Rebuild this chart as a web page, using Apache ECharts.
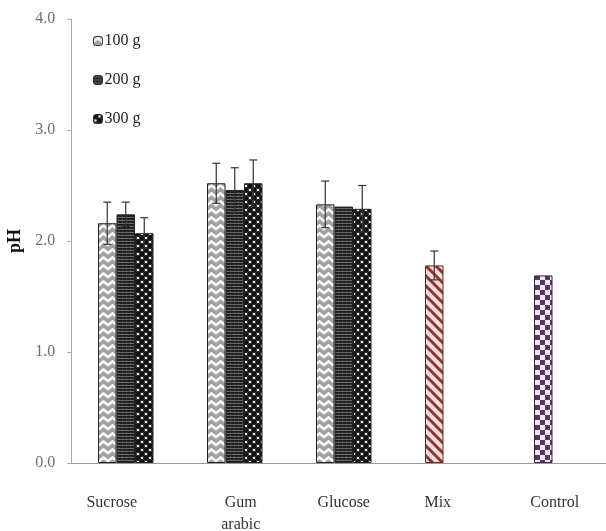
<!DOCTYPE html>
<html>
<head>
<meta charset="utf-8">
<script src="https://cdn.jsdelivr.net/npm/echarts@6/dist/echarts.min.js"></script>
<style>
  html, body { margin: 0; padding: 0; background: #fff; }
  #chart { width: 606px; height: 531px; }
</style>
</head>
<body>
<div id="chart"></div>
<script>
// pH of samples by sweetener type and amount
const categories = ['Sucrose', 'Gum\narabic', 'Glucose', 'Mix', 'Control'];
const seriesNames = ['100 g', '200 g', '300 g'];
const g100 = [2.16, 2.52, 2.33, 1.78, 1.69];
const g200 = [2.24, 2.46, 2.31, null, null];
const g300 = [2.07, 2.52, 2.29, null, null];
const err100 = [0.19, 0.18, 0.21, 0.13, null];
const err200 = [0.11, 0.20, null, null, null];
const err300 = [0.14, 0.21, 0.21, null, null];
const yTicks = [0, 1, 2, 3, 4];

// label nudges (px, + = right) for the category names
const labelShift = [-14, 6, 0, -15, -7];

function tile(w, h, draw) {
  const c = document.createElement('canvas');
  c.width = w; c.height = h;
  const ctx = c.getContext('2d');
  draw(ctx, w, h);
  return { image: c, repeat: 'repeat' };
}

// white chevrons on grey
const patChevron = tile(9, 8, (ctx, w, h) => {
  ctx.fillStyle = '#a2a2a2'; ctx.fillRect(0, 0, w, h);
  ctx.strokeStyle = '#fafafa'; ctx.lineWidth = 2.6;
  ctx.beginPath();
  ctx.moveTo(-1, 6); ctx.lineTo(4.5, 1.5); ctx.lineTo(10, 6);
  ctx.stroke();
});
// dense dark texture
const patDense = tile(4, 3, (ctx, w, h) => {
  ctx.fillStyle = '#1e1e1e'; ctx.fillRect(0, 0, w, h);
  ctx.fillStyle = '#6a6a6a'; ctx.fillRect(0, 1, w, 1);
  ctx.fillStyle = '#444'; ctx.fillRect(2, 0, 1, 1);
});
// black discs with white gaps
const patDots = tile(8, 8, (ctx, w, h) => {
  ctx.fillStyle = '#f2f2f2'; ctx.fillRect(0, 0, w, h);
  ctx.fillStyle = '#111';
  [[2, 2], [6, 6], [10, 2], [-2, 6], [2, 10], [6, -2], [-2, -2], [10, 10], [10, 6], [-2, 10]].forEach(([x, y]) => {
    ctx.beginPath(); ctx.arc(x, y, 2.9, 0, Math.PI * 2); ctx.fill();
  });
});
// red diagonal stripes
const patStripes = tile(10, 10, (ctx, w, h) => {
  ctx.fillStyle = '#f7dcd8'; ctx.fillRect(0, 0, w, h);
  ctx.strokeStyle = '#8a3634'; ctx.lineWidth = 3;
  ctx.beginPath();
  for (let k = -2; k <= 2; k++) {
    ctx.moveTo(k * 10 - 5, -5); ctx.lineTo(k * 10 + 15, 15);
  }
  ctx.stroke();
});
// purple checker
const patChecker = tile(10, 10, (ctx, w, h) => {
  ctx.fillStyle = '#f3e6f3'; ctx.fillRect(0, 0, w, h);
  ctx.fillStyle = '#553763';
  ctx.fillRect(0, 0, 5, 5); ctx.fillRect(5, 5, 5, 5);
});

const barPatterns = [patChevron, patDense, patDots];
const BAR_W = 18.5;
const serif = '"Liberation Serif", "DejaVu Serif", serif';

function withOverrides(vals) {
  return vals.map((v, i) => {
    if (v == null) return null;
    if (categories[i] === 'Mix') return { value: v, itemStyle: { color: patStripes, borderColor: '#5a2a2a' } };
    if (categories[i] === 'Control') return { value: v, itemStyle: { color: patChecker, borderColor: '#3a2340' } };
    return v;
  });
}

const values = [g100, g200, g300];
const errs = [err100, err200, err300];
const errData = [];
values.forEach((vals, s) => {
  vals.forEach((v, i) => {
    const e = errs[s][i];
    if (v != null && e != null) errData.push([i, s, v - e, v + e]);
  });
});

const rich = {};
labelShift.forEach((d, i) => {
  rich['c' + i] = {
    fontFamily: serif, fontSize: 16, color: '#333', lineHeight: 22,
    padding: d >= 0 ? [0, 0, 0, 2 * d] : [0, -2 * d, 0, 0]
  };
});

const chart = echarts.init(document.getElementById('chart'), null, { renderer: 'canvas' });
chart.setOption({
  animation: false,
  backgroundColor: '#fff',
  grid: { left: 71.25, top: 19, width: 545, height: 444, containLabel: false, outerBoundsMode: 'none' },
  legend: {
    orient: 'vertical', left: 88, top: 28,
    itemWidth: 9, itemHeight: 9, itemGap: 23,
    data: seriesNames,
    textStyle: { fontFamily: serif, fontSize: 16, color: '#222', padding: [0, 0, 0, -3] },
    itemStyle: { borderColor: '#333', borderWidth: 1 }
  },
  xAxis: {
    type: 'category', data: categories,
    axisLine: { lineStyle: { color: '#9a9a9a', width: 1 } },
    axisTick: { show: false },
    axisLabel: {
      margin: 29, interval: 0,
      formatter: (val, idx) => val.split('\n').map(t => '{c' + idx + '|' + t + '}').join('\n'),
      rich: rich
    }
  },
  yAxis: {
    type: 'value', min: 0, max: 4, interval: 1,
    name: 'pH', nameLocation: 'middle', nameGap: 45, nameRotate: 90,
    nameTextStyle: { fontFamily: serif, fontSize: 18, fontWeight: 'bold', color: '#111' },
    axisLine: { show: true, lineStyle: { color: '#a8a8a8' } },
    axisTick: { show: true, length: 4, lineStyle: { color: '#a8a8a8' } },
    splitLine: { show: false },
    axisLabel: {
      margin: 16, fontFamily: serif, fontSize: 16, color: '#707070',
      formatter: v => yTicks.includes(v) ? v.toFixed(1) : ''
    }
  },
  series: [
    ...seriesNames.map((name, s) => ({
      name, type: 'bar', barWidth: BAR_W, barGap: '0%',
      data: withOverrides(values[s]),
      itemStyle: { color: barPatterns[s], borderColor: '#222', borderWidth: 1 },
      z: 2
    })),
    {
      type: 'custom', name: 'err', z: 5, silent: true,
      data: errData,
      renderItem: (params, api) => {
        const cat = api.value(0), slot = api.value(1);
        const lo = api.coord([cat, api.value(2)]);
        const hi = api.coord([cat, api.value(3)]);
        const x = lo[0] + (slot - 1) * BAR_W;
        const cap = 4;
        const st = { stroke: '#333', lineWidth: 1.2 };
        return {
          type: 'group', children: [
            { type: 'line', shape: { x1: x, y1: lo[1], x2: x, y2: hi[1] }, style: st },
            { type: 'line', shape: { x1: x - cap, y1: hi[1], x2: x + cap, y2: hi[1] }, style: st },
            { type: 'line', shape: { x1: x - cap, y1: lo[1], x2: x + cap, y2: lo[1] }, style: st }
          ]
        };
      }
    }
  ]
});
</script>
</body>
</html>
